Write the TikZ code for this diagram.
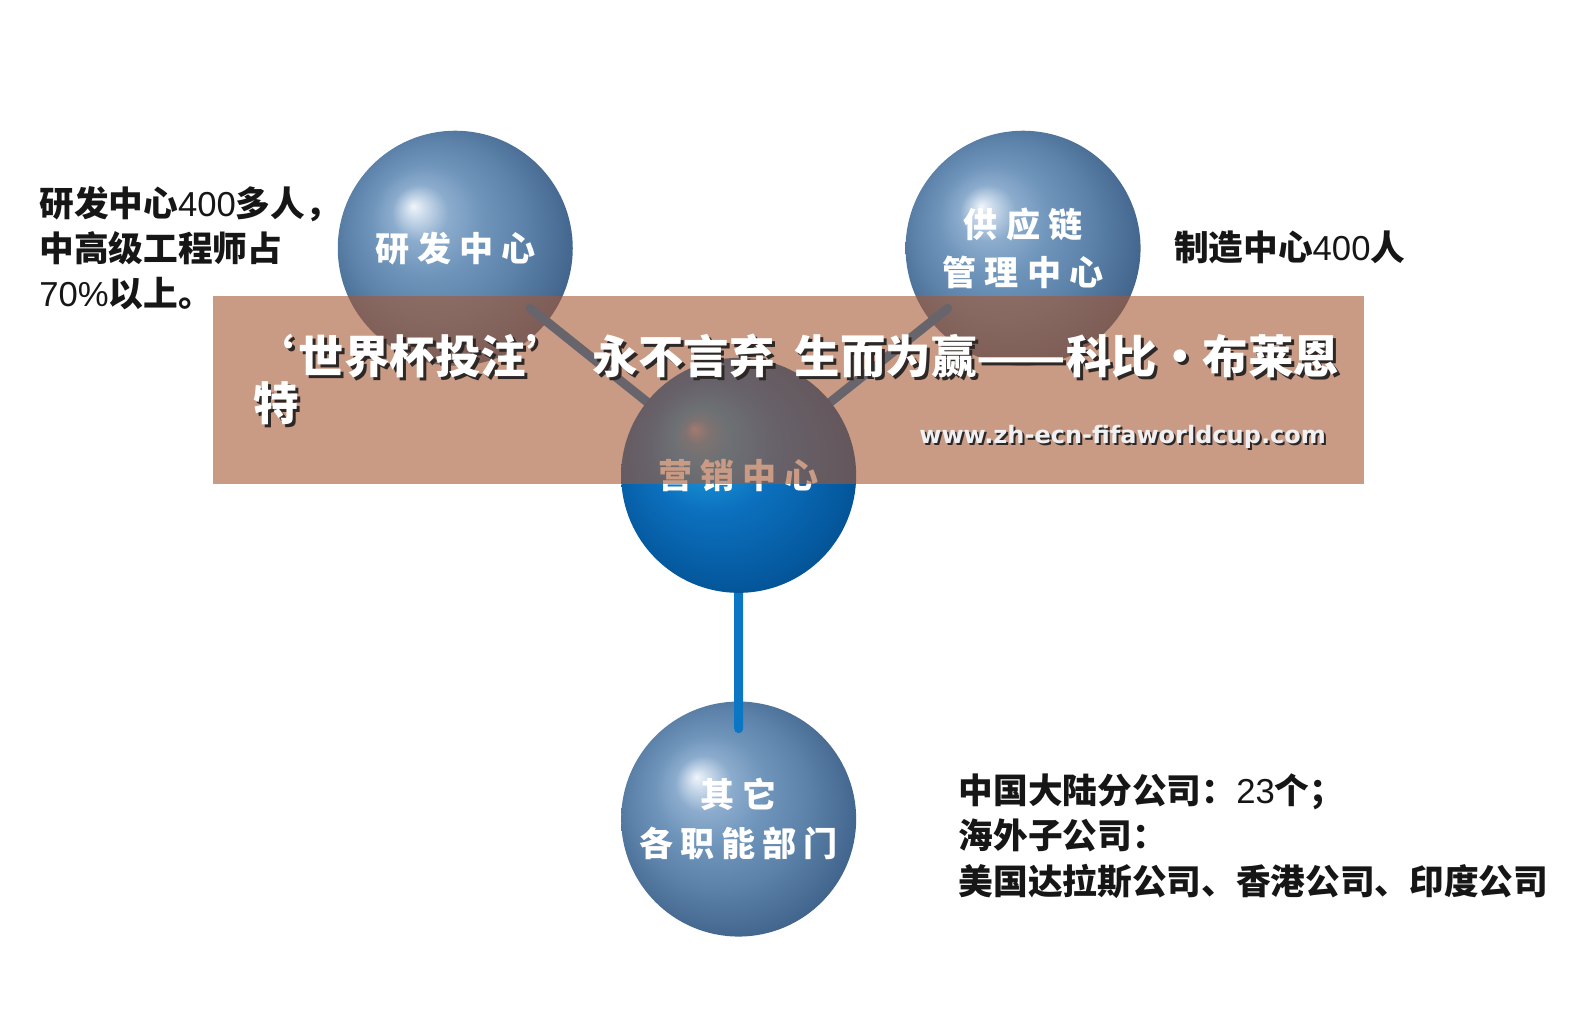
\documentclass[tikz,border=0pt]{standalone}
\usepackage{fontspec}
\usepackage{graphicx}
\usetikzlibrary{calc}
\newfontfamily\cjk{Noto Sans CJK SC}
\newfontfamily\lat{Liberation Sans}
\newfontfamily\webfont{DejaVu Sans}

\definecolor{hlA}{RGB}{240,245,250}
\definecolor{sA1}{RGB}{205,220,236}
\definecolor{sA2}{RGB}{140,172,205}
\definecolor{sA3}{RGB}{110,148,186}
\definecolor{sA4}{RGB}{92,130,170}
\definecolor{sA5}{RGB}{68,103,143}
\definecolor{sA6}{RGB}{45,75,110}

\definecolor{hlB}{RGB}{160,176,198}
\definecolor{sB1}{RGB}{70,155,210}
\definecolor{sB2}{RGB}{25,150,215}
\definecolor{sB3}{RGB}{12,112,190}
\definecolor{sB4}{RGB}{5,90,160}
\definecolor{sB5}{RGB}{0,68,125}

\definecolor{linkc}{RGB}{10,118,196}
\definecolor{veil}{RGB}{165,88,50}
\definecolor{shadowc}{RGB}{45,40,38}
\definecolor{inkc}{RGB}{22,22,22}

% the circle's radius corresponds to 25bp of the shading
\pgfdeclareradialshading{steelball}{\pgfpoint{-9bp}{9bp}}{color(0bp)=(hlA); color(2bp)=(sA1); color(6bp)=(sA2); color(12bp)=(sA3); color(19bp)=(sA4); color(27bp)=(sA5); color(36bp)=(sA6)}
\pgfdeclareradialshading{blueball}{\pgfpoint{-9.5bp}{10bp}}{color(0bp)=(hlB); color(2.5bp)=(sB1); color(6bp)=(sB2); color(14bp)=(sB3); color(25bp)=(sB4); color(35bp)=(sB5)}

\pgfdeclarelayer{bg}
\pgfdeclarelayer{mid}
\pgfdeclarelayer{fg}
\pgfsetlayers{bg,mid,main,fg}

\newcommand\bannerline{\makebox[1em][r]{‘\kern0.1em}世界杯投注\makebox[1em][l]{’}\hspace{0.47em}永不言弃\hspace{0.45em}生而为赢\scalebox{1.15}[1]{——}科比\makebox[1em][c]{·}布莱恩}
\newcommand\stxt[4]{\node[#1,text=shadowc] at ($#3+(3,3)$) {#4};\node[#1,text=white] (#2) at #3 {#4};}

\tikzset{
  ball/.style={circle, minimum size=235bp, inner sep=0pt, text=white, align=center,
    font=\cjk\bfseries\fontsize{34.2}{48}\selectfont},
  link/.style={line width=9bp, draw=linkc, line cap=round},
  info/.style={inner sep=0pt, text=inkc, align=left, font=\cjk\bfseries\fontsize{34.8}{45.5}\selectfont},
  bannertxt/.style={inner sep=0pt, anchor=base west, font=\cjk\bfseries\fontsize{45.6}{45}\selectfont},
  webtxt/.style={inner sep=0pt, anchor=center, font=\webfont\bfseries\fontsize{24.1}{30}\selectfont}
}

\begin{document}
\begin{tikzpicture}[x=1.005bp,y=-1.005bp]
\useasboundingbox (0,0) rectangle (1568.2,1016.9);

\begin{pgfonlayer}{bg}
\fill[white] (0,0) rectangle (1568.2,1016.9);
\node[ball, shading=steelball] (rd) at (453,247) {研\kern8pt 发\kern8pt 中\kern8pt 心};
\node[ball, shading=steelball] (sc) at (1018,247) {供\kern8pt 应\kern8pt 链\\[0pt]管\kern8pt 理\kern8pt 中\kern8pt 心};
\node[ball, shading=steelball] (ot) at (735,815) {其\kern8pt 它\\[1pt]各\kern7pt 职\kern7pt 能\kern7pt 部\kern7pt 门};
\end{pgfonlayer}

\node[ball, shading=blueball] (mk) at (735,473) {营\kern8pt 销\kern8pt 中\kern8pt 心};

\begin{pgfonlayer}{mid}
\draw[link] (mk.center) -- ($(mk.center)!0.735!(rd.center)$);
\draw[link] (mk.center) -- ($(mk.center)!0.735!(sc.center)$);
\draw[link] (mk.center) -- ($(mk.center)!0.737!(ot.center)$);
\end{pgfonlayer}

\node[info, anchor=west] (rdinfo) at (39,247) {研发中心{\lat\mdseries 400}多人，\\中高级工程师占\\{\lat\mdseries 70\%}以上。};
\node[info, anchor=west] (scinfo) at (1168,246) {制造中心{\lat\mdseries 400}人};
\node[info, anchor=west] (otinfo) at (954,832) {中国大陆分公司：{\lat\mdseries 23}个；\\海外子公司：\\美国达拉斯公司、香港公司、印度公司};

\begin{pgfonlayer}{fg}
\fill[veil, fill opacity=0.6] (212,295) rectangle (1357,482);
\stxt{bannertxt}{b1}{(252,372)}{\bannerline}
\stxt{bannertxt}{b2}{(252,418)}{特}
\node[webtxt, text=shadowc] at (1119,437) {www.zh-ecn-fifaworldcup.com};
\node[webtxt, text={rgb,255:red,240;green,240;blue,242}] (web) at (1117,435) {www.zh-ecn-fifaworldcup.com};
\end{pgfonlayer}
\end{tikzpicture}
\end{document}
